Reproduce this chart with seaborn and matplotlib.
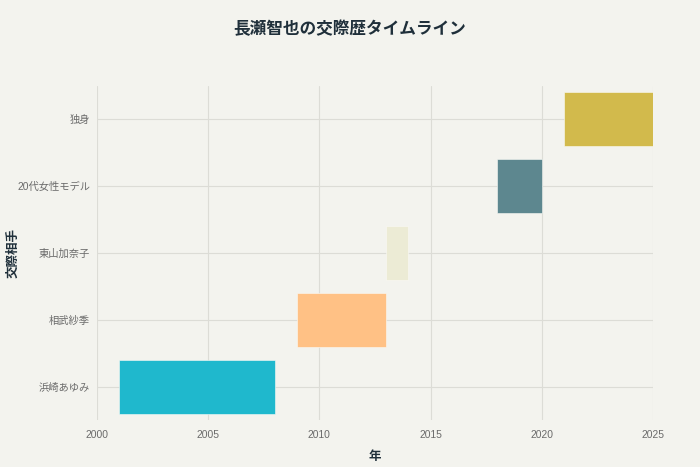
import matplotlib
matplotlib.use("Agg")
import matplotlib.pyplot as plt
import seaborn as sns
import pandas as pd

# 交際相手 (bottom to top) and years
partners = ["浜崎あゆみ", "相武紗季", "東山加奈子", "20代女性モデル", "独身"]
start_years = [2001, 2009, 2013, 2018, 2021]
end_years = [2008, 2013, 2014, 2020, 2025]
colors = ["#1FB8CD", "#FFC185", "#ECEBD5", "#5D878F", "#D2BA4C"]
x_ticks = [2000, 2005, 2010, 2015, 2020, 2025]

df = pd.DataFrame({"partner": partners, "start": start_years, "end": end_years})
df["duration"] = df["end"] - df["start"]

bg = "#F3F3EE"
sns.set_theme(style="whitegrid", rc={
    "axes.facecolor": bg,
    "figure.facecolor": bg,
    "grid.color": "#DCDCD6",
    "grid.linewidth": 0.8,
})
plt.rcParams["font.family"] = ["Liberation Sans", "Noto Sans CJK JP", "DejaVu Sans"]

fig = plt.figure(figsize=(7, 4.67), dpi=100)
ax = fig.add_axes([0.1386, 0.0996, 0.7943, 0.7173])

ax.barh(range(len(df)), df["duration"], left=df["start"], height=0.8,
        color=colors, edgecolor="#FAFAF5", linewidth=0.4, zorder=3)

ax.set_yticks(range(len(df)))
ax.set_yticklabels(df["partner"])
ax.set_ylim(-0.5, len(df) - 0.5)
ax.set_xlim(2000, 2025)
ax.set_xticks(x_ticks)
ax.tick_params(axis="both", length=0, labelsize=7.4, labelcolor="#6A6A6A")
ax.tick_params(axis="y", pad=5)
ax.tick_params(axis="x", pad=7)
for s in ax.spines.values():
    s.set_visible(False)
ax.grid(True, axis="both", zorder=0)
ax.set_axisbelow(True)

ax.set_xlabel("年", fontsize=9, fontweight="bold", color="#1F2F3A", labelpad=8)
ax.set_ylabel("交際相手", fontsize=9, fontweight="bold", color="#1F2F3A")
ax.yaxis.set_label_coords(-0.14, 0.5)

fig.suptitle("長瀬智也の交際歴タイムライン", x=0.5, y=0.955, fontsize=12,
             fontweight="bold", color="#1F2F3A")

fig.savefig("out.png", dpi=100, facecolor=bg)
